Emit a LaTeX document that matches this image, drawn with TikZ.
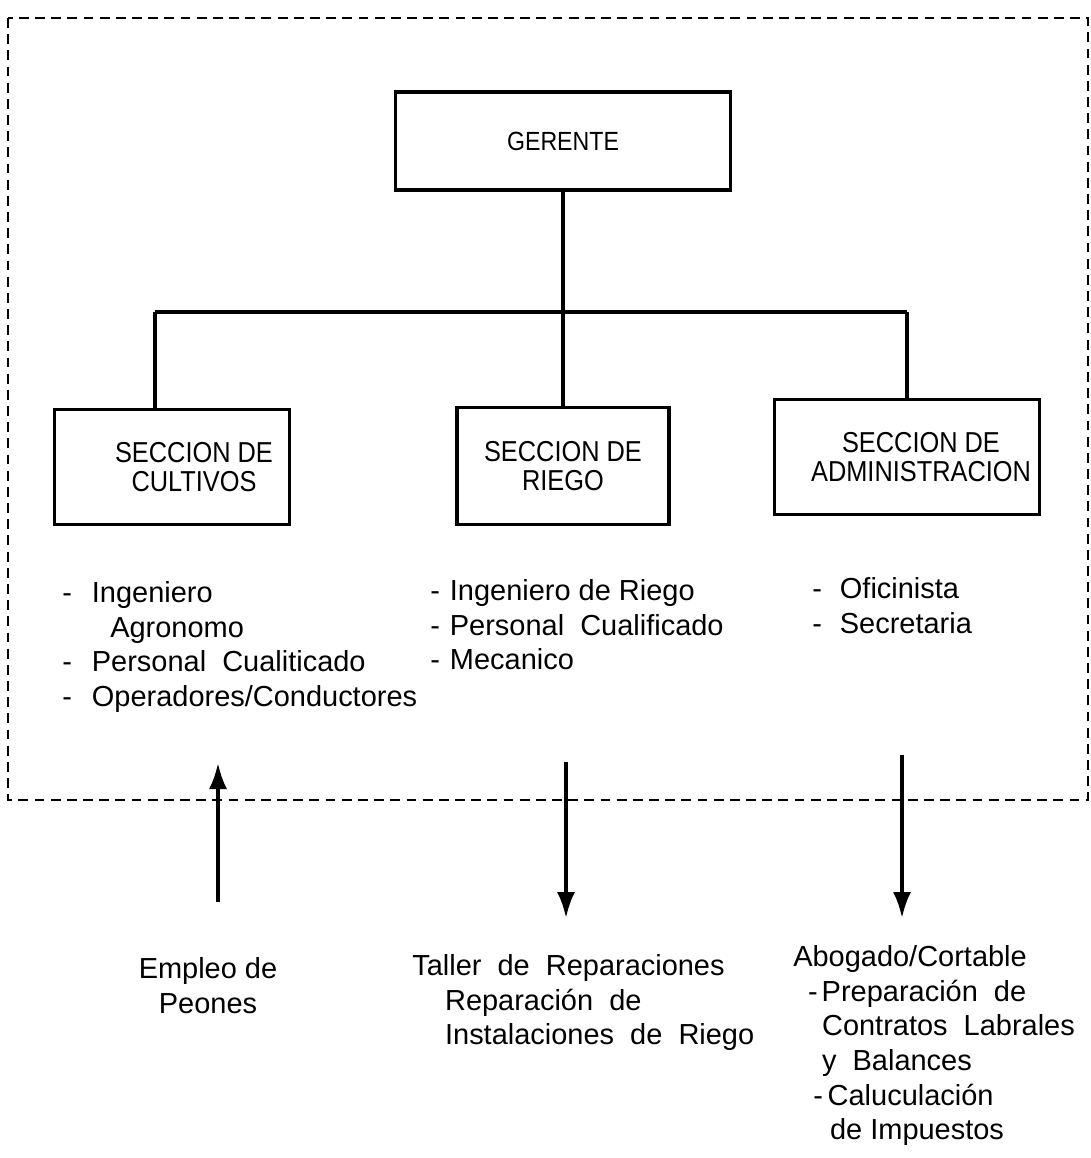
\documentclass[tikz,border=0pt]{standalone}
\usepackage{fontspec}
\setmainfont{Liberation Sans}
\newfontfamily\boxfont[FakeStretch=0.88]{Liberation Sans}
\usetikzlibrary{arrows.meta}
\tikzstyle{box}=[draw, line width=2.4pt, inner sep=0pt, align=center, font=\boxfont\fontsize{20.5}{21}\selectfont]
\tikzstyle{staff}=[anchor=north west, inner sep=0pt, align=left, font=\fontsize{20.6}{24.7}\selectfont]
\tikzstyle{link}=[line width=2.4pt]
\tikzstyle{flow}=[line width=2.4pt, -{Latex[length=0.65cm,width=0.45cm]}]
\newcommand{\guion}[1]{-\hspace{#1}}

\begin{document}
\begin{tikzpicture}[x=0.025cm, y=-0.025cm]
\useasboundingbox (0,0) rectangle (1091,1158);
\draw[dash pattern=on 7pt off 4.5pt, line width=1.3pt] (8,18) rectangle (1088,800);
% organigrama
\node[box, minimum width=8.375cm, minimum height=2.45cm, font=\boxfont\fontsize{18.7}{21}\selectfont] (gerente) at (563,141) {GERENTE};
\node[box, minimum width=5.875cm, minimum height=2.875cm] (cultivos) at (172,467) {\hspace*{1.1cm}SECCION DE\\\hspace*{1.1cm}CULTIVOS};
\node[box, minimum width=5.3cm, minimum height=2.925cm] (riego) at (563,466) {SECCION DE\\RIEGO};
\node[box, minimum width=6.625cm, minimum height=2.875cm] (admin) at (907,457) {\hspace*{0.7cm}SECCION DE\\\hspace*{0.7cm}ADMINISTRACION};
\coordinate (busL) at (155,312);
\coordinate (busR) at (907,312);
\draw[link] (gerente) -- (riego);
\draw[link] (busL) -- (busR);
\draw[link] (busL) -- (busL |- cultivos.north);
\draw[link] (busR) -- (admin.north);
% personal
\node[staff] (lcult) at (62,581) {\guion{0.5cm}Ingeniero\\\hspace*{1.2cm}Agronomo\\\guion{0.5cm}Personal\ \ Cualiticado\\\guion{0.5cm}Operadores/Conductores};
\node[staff] (lriego) at (430,579) {\guion{0.25cm}Ingeniero\ de\ Riego\\\guion{0.25cm}Personal\ \ Cualificado\\\guion{0.25cm}Mecanico};
\node[staff] (ladmin) at (812,577) {\guion{0.45cm}Oficinista\\\guion{0.45cm}Secretaria};
% externos
\coordinate (empleoA) at (218,902);
\coordinate (empleoB) at (218,763);
\coordinate (tallerA) at (566,762);
\coordinate (tallerB) at (566,918);
\coordinate (abogA) at (902,755);
\coordinate (abogB) at (902,918);
\draw[flow] (empleoA) -- (empleoB);
\draw[flow] (tallerA) -- (tallerB);
\draw[flow] (abogA) -- (abogB);
\node[staff, anchor=north, align=center] (empleo) at (208,957) {Empleo de\\Peones};
\node[staff] (taller) at (412,954) {Taller\ \ de\ \ Reparaciones\\\hspace*{0.82cm}Reparación\ \ de\\\hspace*{0.82cm}Instalaciones\ \ de\ \ Riego};
\node[staff] (abogado) at (793,945) {Abogado/Cortable\\\hspace*{0.37cm}\guion{0.1cm}Preparación\ \ de\\\hspace*{0.72cm}Contratos\ \ Labrales\\\hspace*{0.72cm}y\ \ Balances\\\hspace*{0.5cm}\guion{0.12cm}Caluculación\\\hspace*{0.92cm}de\ Impuestos};
\end{tikzpicture}
\end{document}
